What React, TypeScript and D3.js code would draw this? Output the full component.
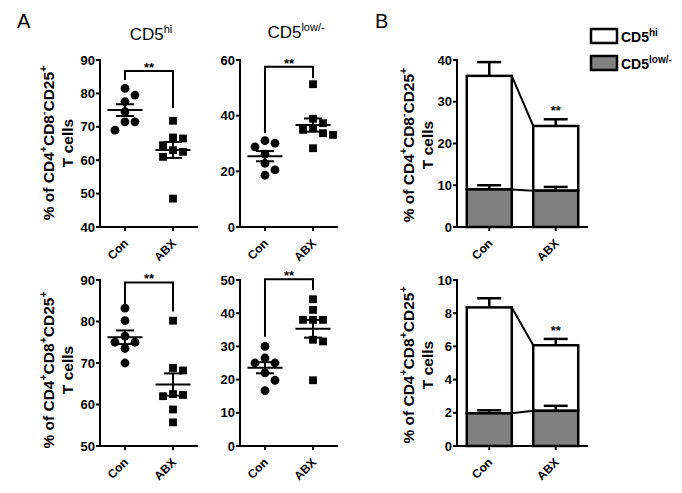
import React from "react";
import * as d3 from "d3";

const FONT = "'Liberation Sans', Arial, Helvetica, sans-serif";

// Categories
const groups = ["Con", "ABX"];

// Panel A — individual mice (% of parent)
const hiCD8negCon = [81.5, 79.5, 77.5, 74.5, 71.5, 71.5, 69];
const hiCD8negAbx = [71.8, 66.8, 66.5, 64.5, 63, 62.5, 61, 48.5];
const lowCD8negCon = [31, 30.1, 28.8, 26.2, 22.9, 20.5, 18.6];
const lowCD8negAbx = [51.3, 38.9, 37.3, 35.5, 34.9, 33.7, 33.1, 28.3];
const hiCD8posCon = [83.2, 80.2, 76.5, 75, 75, 73.5, 70];
const hiCD8posAbx = [80.2, 68.8, 68.2, 62.5, 62.3, 62, 58.8, 55.7];
const lowCD8posCon = [30, 26.5, 25, 25, 22, 19.8, 16.7];
const lowCD8posAbx = [44.2, 41, 38, 38, 38, 32, 31.5, 19.8];

// Significance brackets: [bar level, left end, right end]
const bracketHiNeg = [86.7, 84, 75.6];
const bracketLowNeg = [57.6, 33.7, 53.4];
const bracketHiPos = [89.4, 84, 82.4];
const bracketLowPos = [50.2, 32.9, 47];

// Tick values
const ticksHiNeg = [40, 50, 60, 70, 80, 90];
const ticksLowNeg = [0, 20, 40, 60];
const ticksHiPos = [50, 60, 70, 80, 90];
const ticksLowPos = [0, 10, 20, 30, 40, 50];
const ticksBarNeg = [0, 10, 20, 30, 40];
const ticksBarPos = [0, 2, 4, 6, 8, 10];

// Panel B — stacked means (Con, ABX)
const barNegLowMean = [9.0, 8.7];
const barNegHiMean = [27.2, 15.5];
const barNegLowSem = [1.0, 0.9];
const barNegHiSem = [3.3, 1.6];
const barPosLowMean = [1.97, 2.12];
const barPosHiMean = [6.38, 3.95];
const barPosLowSem = [0.18, 0.3];
const barPosHiSem = [0.55, 0.38];

const sem = (v: number[]) => (d3.deviation(v) as number) / Math.sqrt(v.length);

function swarm(vals: number[], y: (v: number) => number) {
  const placed: { py: number; dx: number }[] = [];
  const sorted = vals.map((v) => ({ py: y(v) })).sort((a, b) => a.py - b.py);
  for (const p of sorted) {
    for (const k of [0, 1, -1, 2, -2, 3, -3]) {
      const dx = k * 10;
      if (placed.every((q) => Math.hypot(q.dx - dx, q.py - p.py) >= 9)) {
        placed.push({ py: p.py, dx });
        break;
      }
    }
  }
  return placed;
}

function XLabels({ x, bot }: { x: (g: string) => number; bot: number }) {
  return (
    <g>
      {groups.map((g) => (
        <text
          key={g}
          transform={`translate(${x(g) + 4},${bot + 17}) rotate(-45)`}
          textAnchor="end"
          fontSize={12}
          fontWeight="bold"
          fontFamily={FONT}
        >
          {g}
        </text>
      ))}
    </g>
  );
}

function YAxis({ ax, y, ticks, top, bot }: any) {
  return (
    <g>
      <line x1={ax} x2={ax} y1={top - 1} y2={bot + 1} stroke="#000" strokeWidth={2} />
      {ticks.map((t: number) => (
        <g key={t}>
          <line x1={ax - 4} x2={ax} y1={y(t)} y2={y(t)} stroke="#000" strokeWidth={2} />
          <text
            x={ax - 5}
            y={y(t) + 4.5}
            textAnchor="end"
            fontSize={13}
            fontWeight="bold"
            fontFamily={FONT}
          >
            {t}
          </text>
        </g>
      ))}
    </g>
  );
}

function ScatterPanel({ ax, top, bot, domain, ticks, con, abx, bracket }: any) {
  const y = d3.scaleLinear().domain(domain).range([bot, top]);
  const x = d3.scalePoint<string>().domain(groups).range([ax, ax + 98]).padding(0.52);
  const xf = (g: string) => x(g) as number;
  const sets = [con, abx];
  return (
    <g>
      <YAxis ax={ax} y={y} ticks={ticks} top={top} bot={bot} />
      <line x1={ax - 1} x2={ax + 98} y1={bot} y2={bot} stroke="#000" strokeWidth={2} />
      {groups.map((g) => (
        <line key={g} x1={xf(g)} x2={xf(g)} y1={bot} y2={bot + 4} stroke="#000" strokeWidth={2} />
      ))}
      <XLabels x={xf} bot={bot} />
      {sets.map((vals: number[], gi: number) => {
        const cx = xf(groups[gi]);
        const pts = swarm(vals, y);
        const m = d3.mean(vals) as number;
        const s = sem(vals);
        return (
          <g key={gi}>
            {pts.map((p, i) =>
              gi === 0 ? (
                <circle key={i} cx={cx + p.dx} cy={p.py} r={4.4} fill="#000" />
              ) : (
                <rect key={i} x={cx + p.dx - 3.9} y={p.py - 3.9} width={7.8} height={7.8} fill="#000" />
              )
            )}
            <line x1={cx - 17.5} x2={cx + 17.5} y1={y(m)} y2={y(m)} stroke="#000" strokeWidth={2} />
            <line x1={cx} x2={cx} y1={y(m - s)} y2={y(m + s)} stroke="#000" strokeWidth={2} />
            <line x1={cx - 9} x2={cx + 9} y1={y(m + s)} y2={y(m + s)} stroke="#000" strokeWidth={2} />
            <line x1={cx - 9} x2={cx + 9} y1={y(m - s)} y2={y(m - s)} stroke="#000" strokeWidth={2} />
          </g>
        );
      })}
      <path
        d={`M${xf("Con")},${y(bracket[1])}V${y(bracket[0])}H${xf("ABX")}V${y(bracket[2])}`}
        fill="none"
        stroke="#000"
        strokeWidth={2}
      />
      <text
        x={(xf("Con") + xf("ABX")) / 2}
        y={y(bracket[0]) + 1}
        textAnchor="middle"
        fontSize={13}
        fontWeight="bold"
        fontFamily={FONT}
      >
        **
      </text>
    </g>
  );
}

function BarPanel({ top, bot, domain, ticks, lowMean, hiMean, lowSem, hiSem }: any) {
  const ax = 457;
  const xEnd = 588;
  const y = d3.scaleLinear().domain(domain).range([bot, top]);
  const x = d3.scaleBand<string>().domain(groups).range([ax, xEnd]).paddingInner(0.323).paddingOuter(0.147);
  const bw = x.bandwidth();
  const xs = (g: string) => x(g) as number;
  const totals = groups.map((_, i) => lowMean[i] + hiMean[i]);
  return (
    <g>
      <YAxis ax={ax} y={y} ticks={ticks} top={top} bot={bot} />
      {groups.map((g, i) => {
        const x0 = xs(g);
        const cx = x0 + bw / 2;
        const tot = totals[i];
        return (
          <g key={g}>
            <rect x={x0} y={y(tot)} width={bw} height={y(lowMean[i]) - y(tot)} fill="#fff" stroke="#000" strokeWidth={2.5} />
            <rect x={x0} y={y(lowMean[i])} width={bw} height={y(0) - y(lowMean[i])} fill="#808080" stroke="#000" strokeWidth={2.5} />
            <line x1={cx} x2={cx} y1={y(tot)} y2={y(tot + hiSem[i])} stroke="#000" strokeWidth={2.5} />
            <line x1={cx - 12} x2={cx + 12} y1={y(tot + hiSem[i])} y2={y(tot + hiSem[i])} stroke="#000" strokeWidth={2.5} />
            <line x1={cx} x2={cx} y1={y(lowMean[i])} y2={y(lowMean[i] + lowSem[i])} stroke="#000" strokeWidth={2.5} />
            <line x1={cx - 12} x2={cx + 12} y1={y(lowMean[i] + lowSem[i])} y2={y(lowMean[i] + lowSem[i])} stroke="#000" strokeWidth={2.5} />
          </g>
        );
      })}
      <line x1={xs("Con") + bw} y1={y(totals[0])} x2={xs("ABX")} y2={y(totals[1])} stroke="#000" strokeWidth={2} />
      <line x1={xs("Con") + bw} y1={y(lowMean[0])} x2={xs("ABX")} y2={y(lowMean[1])} stroke="#000" strokeWidth={2} />
      <text
        x={xs("ABX") + bw / 2}
        y={y(totals[1] + hiSem[1]) - 4}
        textAnchor="middle"
        fontSize={13}
        fontWeight="bold"
        fontFamily={FONT}
      >
        **
      </text>
      <line x1={ax - 1} x2={xEnd} y1={bot} y2={bot} stroke="#000" strokeWidth={2} />
      {groups.map((g) => (
        <line key={g} x1={xs(g) + bw / 2} x2={xs(g) + bw / 2} y1={bot} y2={bot + 4} stroke="#000" strokeWidth={2} />
      ))}
      <XLabels x={(g) => xs(g) + bw / 2} bot={bot} />
    </g>
  );
}

function YLabel({ cx, cy, cd8 }: { cx: number; cy: number; cd8: string }) {
  const sup = { fontSize: 10.5 } as any;
  return (
    <g fontFamily={FONT} fontWeight="bold" fontSize={15.5}>
      <text transform={`translate(${cx + 5.5},${cy}) rotate(-90)`} textAnchor="middle">
        % of CD4
        <tspan {...sup} dy={-6.5}>+</tspan>
        <tspan dy={6.5}>CD8</tspan>
        <tspan {...sup} dy={-6.5}>{cd8}</tspan>
        <tspan dy={6.5}>CD25</tspan>
        <tspan {...sup} dy={-6.5}>+</tspan>
      </text>
      <text transform={`translate(${cx + 25},${cy}) rotate(-90)`} textAnchor="middle">
        T cells
      </text>
    </g>
  );
}

function Title({ x, y, sup }: { x: number; y: number; sup: string }) {
  return (
    <text x={x} y={y} textAnchor="middle" fontSize={17} fontFamily={FONT}>
      CD5
      <tspan fontSize={11} dy={-7}>{sup}</tspan>
    </text>
  );
}

export default function App() {
  return (
    <svg
      width={682}
      height={493}
      style={{ position: "absolute", left: 0, top: 0, background: "#fff" }}
    >
      <rect width={682} height={493} fill="#fff" />
      <text x={17} y={28} fontSize={20} fontFamily={FONT}>A</text>
      <text x={375} y={28} fontSize={20} fontFamily={FONT}>B</text>
      <Title x={151} y={40} sup="hi" />
      <Title x={296} y={38} sup="low/-" />

      <YLabel cx={48} cy={143} cd8="-" />
      <YLabel cx={48} cy={370} cd8="+" />
      <YLabel cx={408} cy={145} cd8="-" />
      <YLabel cx={408} cy={365} cd8="+" />

      <ScatterPanel ax={100} top={60} bot={227} domain={[40, 90]} ticks={ticksHiNeg} con={hiCD8negCon} abx={hiCD8negAbx} bracket={bracketHiNeg} />
      <ScatterPanel ax={240} top={60} bot={227} domain={[0, 60]} ticks={ticksLowNeg} con={lowCD8negCon} abx={lowCD8negAbx} bracket={bracketLowNeg} />
      <ScatterPanel ax={100} top={280} bot={446} domain={[50, 90]} ticks={ticksHiPos} con={hiCD8posCon} abx={hiCD8posAbx} bracket={bracketHiPos} />
      <ScatterPanel ax={240} top={280} bot={446} domain={[0, 50]} ticks={ticksLowPos} con={lowCD8posCon} abx={lowCD8posAbx} bracket={bracketLowPos} />

      <BarPanel top={60} bot={227} domain={[0, 40]} ticks={ticksBarNeg} lowMean={barNegLowMean} hiMean={barNegHiMean} lowSem={barNegLowSem} hiSem={barNegHiSem} />
      <BarPanel top={280} bot={446} domain={[0, 10]} ticks={ticksBarPos} lowMean={barPosLowMean} hiMean={barPosHiMean} lowSem={barPosLowSem} hiSem={barPosHiSem} />

      <g fontFamily={FONT} fontWeight="bold" fontSize={14}>
        <rect x={591} y={29} width={26} height={14} fill="#fff" stroke="#000" strokeWidth={2.5} />
        <rect x={591} y={56} width={26} height={14} fill="#808080" stroke="#000" strokeWidth={2.5} />
        <text x={621} y={42}>
          CD5<tspan fontSize={10} dy={-6}>hi</tspan>
        </text>
        <text x={621} y={69}>
          CD5<tspan fontSize={10} dy={-6}>low/-</tspan>
        </text>
      </g>
    </svg>
  );
}
